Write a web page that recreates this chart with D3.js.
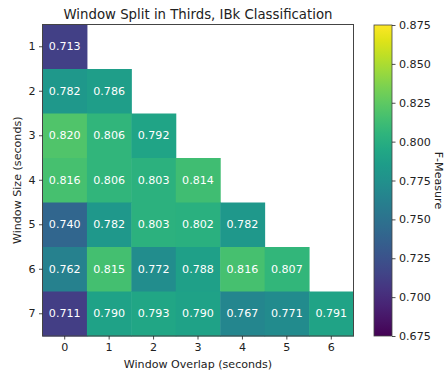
<!DOCTYPE html>
<html>
<head>
<meta charset="utf-8">
<script src="https://cdn.jsdelivr.net/npm/d3@7"></script>
<style>
  html, body { margin: 0; padding: 0; background: #fff; }
  svg { display: block; font-family: "DejaVu Sans", sans-serif; }
</style>
</head>
<body>
<svg id="chart" width="448" height="375"></svg>
<script>
// Window overlap (columns) and window size (rows), in seconds
const overlaps = [0, 1, 2, 3, 4, 5, 6];
const sizes = [1, 2, 3, 4, 5, 6, 7];

// F-Measure per window size; entry i is overlap i
const row1 = [0.713];
const row2 = [0.782, 0.786];
const row3 = [0.820, 0.806, 0.792];
const row4 = [0.816, 0.806, 0.803, 0.814];
const row5 = [0.740, 0.782, 0.803, 0.802, 0.782];
const row6 = [0.762, 0.815, 0.772, 0.788, 0.816, 0.807];
const row7 = [0.711, 0.790, 0.793, 0.790, 0.767, 0.771, 0.791];
const rows = [row1, row2, row3, row4, row5, row6, row7];

const colorTicks = [0.675, 0.700, 0.725, 0.750, 0.775, 0.800, 0.825, 0.850, 0.875];
const colorDomain = [0.675, 0.875];

const FS = 11.1;      // tick / label font size
const TITLE_FS = 13.3;

const svg = d3.select("#chart");
const plot = { left: 42.5, top: 24.5, right: 353.5, bottom: 336 };
const bar = { left: 374, right: 392, top: 25, bottom: 336 };

const x = d3.scaleBand().domain(overlaps).range([plot.left, plot.right]).padding(0);
const y = d3.scaleBand().domain(sizes).range([plot.top, plot.bottom]).padding(0);
const color = d3.scaleSequential(d3.interpolateViridis).domain(colorDomain);

const cells = [];
rows.forEach((vals, ri) => vals.forEach((v, ci) => cells.push({ size: sizes[ri], overlap: overlaps[ci], v })));

const g = svg.append("g");
g.selectAll("rect.cell").data(cells).enter().append("rect")
  .attr("class", "cell")
  .attr("x", d => x(d.overlap))
  .attr("y", d => y(d.size))
  .attr("width", x.bandwidth() + 0.5)
  .attr("height", y.bandwidth() + 0.5)
  .attr("fill", d => color(d.v));

g.selectAll("text.val").data(cells).enter().append("text")
  .attr("class", "val")
  .attr("x", d => x(d.overlap) + x.bandwidth() / 2)
  .attr("y", d => y(d.size) + y.bandwidth() / 2)
  .attr("text-anchor", "middle")
  .attr("dominant-baseline", "central")
  .attr("font-size", FS)
  .attr("fill", "#fff")
  .text(d => d.v.toFixed(3));

// frame
svg.append("rect")
  .attr("x", plot.left).attr("y", plot.top)
  .attr("width", plot.right - plot.left).attr("height", plot.bottom - plot.top)
  .attr("fill", "none").attr("stroke", "#444").attr("stroke-width", 1);

// axes
const xAxis = svg.append("g").attr("transform", `translate(0,${plot.bottom})`)
  .call(d3.axisBottom(x).tickSize(3.5).tickPadding(3.5));
const yAxis = svg.append("g").attr("transform", `translate(${plot.left},0)`)
  .call(d3.axisLeft(y).tickSize(3.5).tickPadding(3.5));
[xAxis, yAxis].forEach(a => {
  a.select(".domain").remove();
  a.selectAll("text").attr("font-size", FS).attr("font-family", "DejaVu Sans, sans-serif").attr("fill", "#222");
  a.selectAll("line").attr("stroke", "#222").attr("stroke-width", 0.8);
});

// titles
svg.append("text").attr("x", (plot.left + plot.right) / 2).attr("y", 18.5)
  .attr("text-anchor", "middle").attr("font-size", TITLE_FS).attr("fill", "#222")
  .text("Window Split in Thirds, IBk Classification");
svg.append("text").attr("x", (plot.left + plot.right) / 2).attr("y", 368)
  .attr("text-anchor", "middle").attr("font-size", FS).attr("fill", "#222")
  .text("Window Overlap (seconds)");
svg.append("text")
  .attr("transform", `translate(17,${(plot.top + plot.bottom) / 2}) rotate(-90)`)
  .attr("text-anchor", "middle").attr("dominant-baseline", "central")
  .attr("font-size", FS).attr("fill", "#222")
  .text("Window Size (seconds)");

// colorbar
const defs = svg.append("defs");
const grad = defs.append("linearGradient").attr("id", "viridis")
  .attr("x1", 0).attr("y1", 1).attr("x2", 0).attr("y2", 0);
d3.range(0, 1.0001, 0.05).forEach(t => {
  grad.append("stop").attr("offset", t).attr("stop-color", d3.interpolateViridis(t));
});
svg.append("rect")
  .attr("x", bar.left).attr("y", bar.top)
  .attr("width", bar.right - bar.left).attr("height", bar.bottom - bar.top)
  .attr("fill", "url(#viridis)").attr("stroke", "#444").attr("stroke-width", 0.8);

const cy = d3.scaleLinear().domain(colorDomain).range([bar.bottom, bar.top]);
const cAxis = svg.append("g").attr("transform", `translate(${bar.right},0)`)
  .call(d3.axisRight(cy).tickValues(colorTicks).tickFormat(d3.format(".3f")).tickSize(3.5).tickPadding(3.5));
cAxis.select(".domain").remove();
cAxis.selectAll("text").attr("font-size", FS).attr("font-family", "DejaVu Sans, sans-serif").attr("fill", "#222");
cAxis.selectAll("line").attr("stroke", "#222").attr("stroke-width", 0.8);

svg.append("text")
  .attr("transform", `translate(438,${(bar.top + bar.bottom) / 2}) rotate(90)`)
  .attr("text-anchor", "middle").attr("dominant-baseline", "central")
  .attr("font-size", FS).attr("fill", "#222")
  .text("F-Measure");
</script>
</body>
</html>
